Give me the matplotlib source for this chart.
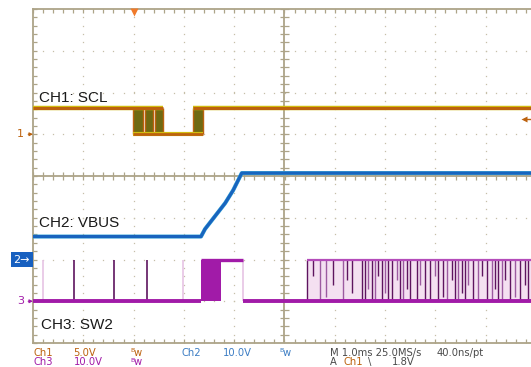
import numpy as np
import matplotlib
matplotlib.use("Agg")
import matplotlib.pyplot as plt
import matplotlib.transforms as mtransforms

# ---- scope settings ----
time_per_div_ms = 1.0
trigger_t_ms = -3.0
trigger_level_v = 1.8
ch1_scale, ch1_offset = 5.0, 1.0     # V/div, ground position in div
ch2_scale, ch2_offset = 10.0, -2.0
ch3_scale, ch3_offset = 10.0, -3.0

# ---- CH1: SCL ----
scl_high_v = 3.15
scl_low_v = 0.0
scl_high_spans = [(-5.0, -2.42), (-1.82, 5.0)]
scl_low_span = (-3.01, -1.62)
scl_bursts = [(-3.01, -2.81), (-2.77, -2.61), (-2.57, -2.42), (-1.82, -1.62)]

# ---- CH2: VBUS ----
vbus_t = [-5.0, -1.66, -1.58, -1.38, -1.18, -1.02, -0.85, 5.0]
vbus_v = [5.5, 5.5, 7.3, 10.4, 13.5, 16.6, 20.7, 20.7]

# ---- CH3: SW2 ----
sw2_high_v = 9.9
sw2_low_v = 0.0
sw2_low_spans = [(-5.0, -1.66), (-0.83, 5.0)]
sw2_spikes_t = [-4.80, -4.18, -3.39, -2.73, -2.02]
sw2_spikes_dark = [0, 1, 1, 1, 0]
sw2_block = (-1.66, -1.26)
sw2_high_span = (-1.66, -0.83)
sw2_dense_start = 0.45
pulse_t = [0.45, 0.57, 0.71, 0.83, 0.96, 1.16, 1.24, 1.34, 1.54, 1.60, 1.66,
           1.74, 1.80, 1.86, 1.94, 2.00, 2.06, 2.14, 2.24, 2.30, 2.36, 2.44,
           2.50, 2.63, 2.69, 2.79, 2.89, 2.99, 3.05, 3.15, 3.23, 3.33, 3.39,
           3.45, 3.53, 3.59, 3.65, 3.75, 3.85, 3.93, 4.03, 4.13, 4.19, 4.25,
           4.32, 4.38, 4.48, 4.58, 4.68, 4.78, 4.84]
pulse_low = [0, 6, 0, 1, 4, 0, 5, 2, 0, 0, 3, 0, 0, 6, 0, 2, 0, 0, 5, 0, 0, 3,
             0, 0, 4, 0, 0, 6, 0, 1, 0, 5, 0, 0, 2, 0, 4, 0, 0, 6, 0, 0, 3, 0,
             0, 5, 0, 1, 0, 4, 0]
pulse_dark = [1, 1, 0, 0, 1, 0, 1, 1, 1, 1, 0, 1, 0, 1, 1, 0, 1, 1, 0, 1, 0, 1,
              1, 1, 0, 1, 1, 0, 1, 1, 0, 1, 1, 0, 1, 1, 0, 1, 0, 1, 1, 0, 1, 1,
              0, 1, 1, 0, 1, 1, 1]

grat = "#ADA488"
c_ch1, c_ch1_fill, c_ch1_edge = "#BC620E", "#6F6A12", "#D2BE10"
c_ch2, c_ch2_edge = "#1864BE", "#3AA6D8"
c_ch3, c_ch3_dark, c_ch3_mid, c_ch3_light = "#A11BA8", "#5E145F", "#9C5AA0", "#F4E0F1"
c_text = "#1A1A1A"
c_info = "#4A4A4A"
c_ch2_info = "#3C7DC4"


def d1(v):
    return ch1_offset + np.asarray(v, dtype=float) / ch1_scale


def d2(v):
    return ch2_offset + np.asarray(v, dtype=float) / ch2_scale


def d3(v):
    return ch3_offset + np.asarray(v, dtype=float) / ch3_scale


fig = plt.figure(figsize=(5.31, 3.67), dpi=100)
ax = fig.add_axes([33 / 531, 24 / 367, 503 / 531, 334 / 367])
ax.set_xlim(-5, 5)
ax.set_ylim(-4, 4)
ax.set_facecolor("white")

# graticule
for s in ax.spines.values():
    s.set_color(grat)
    s.set_linewidth(1.3)
ax.set_xticks(np.arange(-5, 6, 1))
ax.set_yticks(np.arange(-4, 5, 1))
ax.set_xticks(np.arange(-5, 5.01, 0.2), minor=True)
ax.set_yticks(np.arange(-4, 4.01, 0.2), minor=True)
ax.tick_params(which="both", direction="in", length=3.2, width=0.9, color=grat,
               top=True, right=True, labelbottom=False, labelleft=False)

xm = np.arange(-5, 5.01, 0.2)
ym = np.arange(-4, 4.01, 0.2)
for gx in range(-4, 5):
    if gx != 0:
        ax.plot(np.full_like(ym, gx), ym, ls="none", marker="s", ms=0.9,
                mec="none", mfc="#C6BFA8", zorder=1)
for gy in range(-3, 4):
    if gy != 0:
        ax.plot(xm, np.full_like(xm, gy), ls="none", marker="s", ms=0.9,
                mec="none", mfc="#C6BFA8", zorder=1)
ax.axhline(0, color=grat, lw=1.3, zorder=1)
ax.axvline(0, color=grat, lw=1.3, zorder=1)
ax.vlines(xm, -0.09, 0.09, color=grat, lw=0.9, zorder=1)
ax.hlines(ym, -0.09, 0.09, color=grat, lw=0.9, zorder=1)

# CH3 SW2
ax.fill_between([sw2_dense_start, 5.0], d3(sw2_low_v), d3(sw2_high_v),
                color=c_ch3_light, lw=0, zorder=2)
for t, lo, dk in zip(pulse_t, pulse_low, pulse_dark):
    ax.vlines(t, d3(lo), d3(sw2_high_v), color=c_ch3_dark if dk else c_ch3_mid,
              lw=1.0, zorder=3)
ax.hlines(d3(sw2_high_v), sw2_dense_start, 5.0, color="#B44CBA", lw=1.6, zorder=3)
for t, dk in zip(sw2_spikes_t, sw2_spikes_dark):
    ax.vlines(t, d3(sw2_low_v), d3(sw2_high_v),
              color=c_ch3_dark if dk else "#E6C4E4", lw=1.2, zorder=3)
ax.fill_between(sw2_block, d3(sw2_low_v), d3(sw2_high_v), color=c_ch3,
                lw=0, zorder=3)
ax.hlines(d3(sw2_high_v), *sw2_high_span, color=c_ch3, lw=2.4, zorder=4)
ax.vlines(sw2_high_span[1], d3(sw2_low_v), d3(sw2_high_v), color="#E6C4E4",
          lw=1.2, zorder=3)
for a, b in sw2_low_spans:
    ax.hlines(d3(sw2_low_v), a, b, color=c_ch3, lw=2.8, zorder=4)

# CH2 VBUS
ax.plot(vbus_t, d2(vbus_v), color=c_ch2_edge, lw=2.9, zorder=5,
        solid_joinstyle="round")
ax.plot(vbus_t, d2(vbus_v), color=c_ch2, lw=2.2, zorder=5,
        solid_joinstyle="round")

# CH1 SCL
for a, b in scl_bursts:
    ax.fill_between([a, b], d1(scl_low_v), d1(scl_high_v), color=c_ch1_fill,
                    lw=0, zorder=6)
    ax.vlines([a, b], d1(scl_low_v), d1(scl_high_v), color=c_ch1, lw=1.0,
              zorder=6)
for a, b in scl_high_spans:
    ax.hlines(d1(scl_high_v), a, b, color=c_ch1_edge, lw=3.2, zorder=6)
    ax.hlines(d1(scl_high_v), a, b, color=c_ch1, lw=2.2, zorder=7)
ax.hlines(d1(scl_low_v), *scl_low_span, color=c_ch1_edge, lw=3.0, zorder=6)
ax.hlines(d1(scl_low_v), *scl_low_span, color=c_ch1, lw=2.0, zorder=7)

# channel labels
lab_font = dict(family="Liberation Sans", fontsize=11, color=c_text,
                va="center", ha="left", zorder=8)
ax.text(-4.88, 1.87, "CH1: SCL", **lab_font)
ax.text(-4.88, -1.13, "CH2: VBUS", **lab_font)
ax.text(-4.84, -3.57, "CH3: SW2", **lab_font)

# ground markers on the left
left = mtransforms.blended_transform_factory(ax.transAxes, ax.transData)
ax.annotate("1", xy=(0, ch1_offset), xycoords=left, xytext=(-9, 0),
            textcoords="offset pixels", ha="right", va="center", fontsize=8,
            color=c_ch1, annotation_clip=False,
            arrowprops=dict(arrowstyle="-|>", color=c_ch1, lw=0.8,
                            mutation_scale=5, shrinkA=1, shrinkB=0))
ax.annotate("3", xy=(0, ch3_offset), xycoords=left, xytext=(-9, 0),
            textcoords="offset pixels", ha="right", va="center", fontsize=8,
            color=c_ch3, annotation_clip=False,
            arrowprops=dict(arrowstyle="-|>", color=c_ch3, lw=0.8,
                            mutation_scale=5, shrinkA=1, shrinkB=0))
box_tr = left + mtransforms.ScaledTranslation(-3 / 100, 0, fig.dpi_scale_trans)
ax.text(0, ch2_offset, "2\u2192", transform=box_tr, ha="right", va="center",
        fontsize=8, color="white", clip_on=False,
        bbox=dict(boxstyle="square,pad=0.25", fc="#1760C0", ec="none"))

# trigger position / level markers
top = mtransforms.blended_transform_factory(ax.transData, ax.transAxes)
ax.plot(trigger_t_ms, 0.99, marker="v", ms=6, color="#F07A2A", mec="none",
        transform=top, clip_on=False, zorder=9)
lvl = d1(trigger_level_v)
ax.plot(4.76, lvl, marker="<", ms=5, color=c_ch1, mec="none", zorder=9)
ax.hlines(lvl, 4.76, 4.95, color=c_ch1, lw=1.0, zorder=9)

# readout rows
info_font = dict(family="DejaVu Sans", fontsize=7.2, va="center", ha="left")
row1 = 1 - 353 / 367
row2 = 1 - 362 / 367


def bw_mark(x_px, y, color):
    fig.text(x_px / 531, y + 2 / 367, "B", color=color, family="DejaVu Sans",
             fontsize=4.5, va="center", ha="left")
    fig.text((x_px + 4) / 531, y, "w", color=color, **info_font)


fig.text(33 / 531, row1, "Ch1", color=c_ch1, **info_font)
fig.text(73 / 531, row1, "5.0V", color=c_ch1, **info_font)
bw_mark(130, row1, c_ch1)
fig.text(182 / 531, row1, "Ch2", color=c_ch2_info, **info_font)
fig.text(223 / 531, row1, "10.0V", color=c_ch2_info, **info_font)
bw_mark(279, row1, c_ch2_info)
fig.text(330 / 531, row1, "M 1.0ms 25.0MS/s", color=c_info, **info_font)
fig.text(437 / 531, row1, "40.0ns/pt", color=c_info, **info_font)
fig.text(33 / 531, row2, "Ch3", color=c_ch3, **info_font)
fig.text(74 / 531, row2, "10.0V", color=c_ch3, **info_font)
bw_mark(130, row2, c_ch3)
fig.text(330 / 531, row2, "A", color=c_info, **info_font)
fig.text(343 / 531, row2, "Ch1", color=c_ch1, **info_font)
fig.text(368 / 531, row2, "\\", color=c_info, **info_font)
fig.text(392 / 531, row2, "1.8V", color=c_info, **info_font)

fig.savefig("out.png", dpi=100)
